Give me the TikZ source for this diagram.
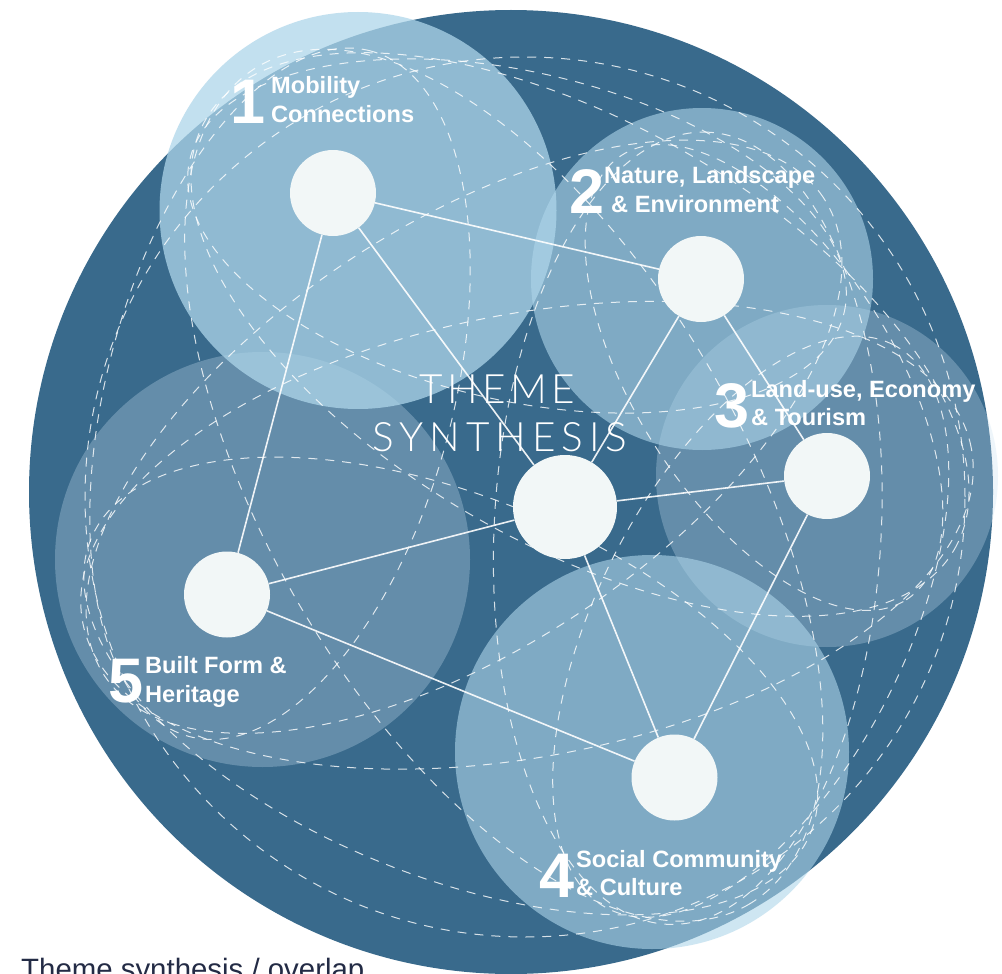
\documentclass[tikz,border=0pt]{standalone}
\usepackage{fontspec}
\setmainfont{Liberation Sans}
\newfontfamily\thinfontA[LetterSpace=11]{Lato Light}
\newfontfamily\thinfontB[LetterSpace=14.5]{Lato Light}
\definecolor{darkblue}{RGB}{57,106,140}
\definecolor{lightblue}{RGB}{174,214,234}
\definecolor{paleblue}{RGB}{200,225,240}
\definecolor{nodefill}{RGB}{242,247,247}
\definecolor{navy}{RGB}{35,43,69}
\begin{document}
\begin{tikzpicture}[x=1pt,y=-1pt,
  themenode/.style={circle, fill=nodefill, minimum size=86pt, inner sep=0pt},
  hubnode/.style={circle, fill=nodefill, minimum size=104pt, inner sep=0pt},
  link/.style={draw=white, line width=1.6pt, opacity=0.9},
  overlap/.style={draw=white, line width=1pt, opacity=0.8, dash pattern=on 9pt off 8pt},
  num/.style={text=white, font=\bfseries\fontsize{63}{63}\selectfont, inner sep=0pt, anchor=base west},
  lbl/.style={text=white, font=\bfseries\fontsize{23.6}{28}\selectfont, inner sep=0pt, anchor=base west},
  titletext/.style={text=white, inner sep=0pt, anchor=base},
]
\useasboundingbox (0,0) rectangle (1002,974);
\fill[white] (0,0) rectangle (1002,974);
% big background disc
\fill[darkblue] (511,492) circle [radius=482pt];
% theme discs
\fill[paleblue, fill opacity=0.3] (827,476) circle [radius=171pt];
\fill[paleblue, fill opacity=0.3] (262.5,559.5) circle [radius=207.5pt];
\fill[lightblue, fill opacity=0.75] (358,210.5) circle [radius=198.5pt];
\fill[lightblue, fill opacity=0.6] (702,279) circle [radius=171pt];
\fill[lightblue, fill opacity=0.6] (652,752) circle [radius=197pt];
% dashed overlap ellipses
\draw[overlap] (525,497) circle [radius=440pt];
\draw[overlap, rotate around={-13.15:(517,236)}] (517,236) ellipse [x radius=336pt, y radius=164pt];
\draw[overlap, rotate around={-29.8:(580,334.5)}] (580,334.5) ellipse [x radius=431.7pt, y radius=210.6pt];
\draw[overlap, rotate around={-59.7:(503.75,485.25)}] (503.75,485.25) ellipse [x radius=485.5pt, y radius=236.8pt];
\draw[overlap, rotate around={75.2:(280,393.75)}] (280,393.75) ellipse [x radius=354.6pt, y radius=173pt];
\draw[overlap, rotate around={-57.4:(764,377.5)}] (764,377.5) ellipse [x radius=263.9pt, y radius=128.7pt];
\draw[overlap, rotate around={87:(687.75,528.25)}] (687.75,528.25) ellipse [x radius=396.6pt, y radius=193.5pt];
\draw[overlap, rotate around={33.65:(464,436.75)}] (464,436.75) ellipse [x radius=431.7pt, y radius=210.6pt];
\draw[overlap, rotate around={63.2:(750.75,626.75)}] (750.75,626.75) ellipse [x radius=316pt, y radius=154.1pt];
\draw[overlap, rotate around={11.2:(527,535.25)}] (527,535.25) ellipse [x radius=452.8pt, y radius=220.9pt];
\draw[overlap, rotate around={-22.2:(450.75,686)}] (450.75,686) ellipse [x radius=388.7pt, y radius=189.6pt];
% nodes
\node[themenode] (n1) at (333,193) {};
\node[themenode] (n2) at (701,279) {};
\node[themenode] (n3) at (827,476) {};
\node[themenode] (n4) at (674.5,777.5) {};
\node[themenode] (n5) at (227,594.5) {};
\node[hubnode] (hub) at (565,507) {};
% connectors
\draw[link] (n1) -- (n2);
\draw[link] (n2) -- (n3);
\draw[link] (n3) -- (n4);
\draw[link] (n4) -- (n5);
\draw[link] (n5) -- (n1);
\draw[link] (hub) -- (n1);
\draw[link] (hub) -- (n2);
\draw[link] (hub) -- (n3);
\draw[link] (hub) -- (n4);
\draw[link] (hub) -- (n5);
% title
\node[titletext, font=\thinfontA\fontsize{40.5}{49}\selectfont] (t1) at (497,403) {THEME};
\node[titletext, font=\thinfontB\fontsize{40.5}{49}\selectfont] (t2) at (500,451) {SYNTHESIS};
% labels
\node[num] (d1) at (230,123) {1};
\node[lbl] (l1a) at (271,94) {Mobility};
\node[lbl] (l1b) at (271,122) {Connections};
\node[num] (d2) at (569,213) {2};
\node[lbl] (l2a) at (604,183) {Nature, Landscape};
\node[lbl] (l2b) at (611,212) {\& Environment};
\node[num] (d3) at (714,427) {3};
\node[lbl] (l3a) at (751,397) {Land-use, Economy};
\node[lbl] (l3b) at (751,425) {\& Tourism};
\node[num] (d4) at (539,897) {4};
\node[lbl] (l4a) at (576,867) {Social Community};
\node[lbl] (l4b) at (576,895) {\& Culture};
\node[num] (d5) at (108,702) {5};
\node[lbl] (l5a) at (145,673) {Built Form \&};
\node[lbl] (l5b) at (145,702) {Heritage};
% caption
\node[anchor=base west, text=navy, font=\fontsize{29.4}{30}\selectfont, inner sep=0pt] (cap) at (21,979.5) {Theme synthesis / overlap};
\end{tikzpicture}
\end{document}
